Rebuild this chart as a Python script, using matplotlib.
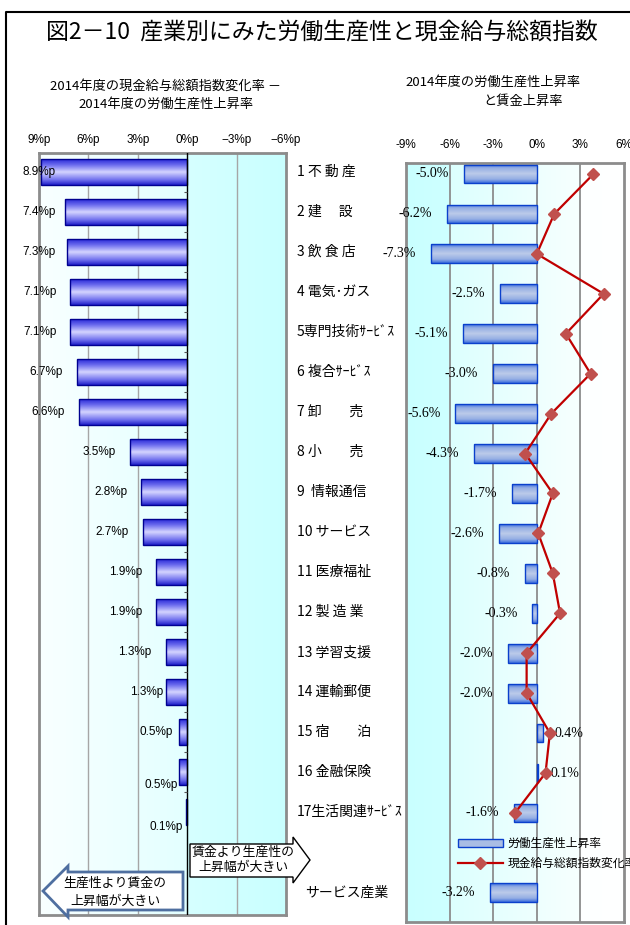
import numpy as np
import matplotlib
matplotlib.use("Agg")
import matplotlib.pyplot as plt
from matplotlib.patches import Polygon, Patch
from matplotlib.lines import Line2D
from matplotlib.colors import to_rgb

plt.rcParams['font.family'] = ['Noto Sans CJK JP', 'DejaVu Sans']

# 産業別データ（2014年度）
industries = ["1 不 動 産", "2 建　 設", "3 飲 食 店", "4 電気･ガス", "5専門技術ｻｰﾋﾞｽ",
              "6 複合ｻｰﾋﾞｽ", "7 卸　　売", "8 小　　売", "9  情報通信", "10 サービス",
              "11 医療福祉", "12 製 造 業", "13 学習支援", "14 運輸郵便", "15 宿　　泊",
              "16 金融保険", "17生活関連ｻｰﾋﾞｽ"]
gap_pt = [8.9, 7.4, 7.3, 7.1, 7.1, 6.7, 6.6, 3.5, 2.8, 2.7, 1.9, 1.9, 1.3, 1.3, 0.5, 0.5, 0.1]
productivity = [-5.0, -6.2, -7.3, -2.5, -5.1, -3.0, -5.6, -4.3, -1.7, -2.6, -0.8, -0.3,
                -2.0, -2.0, 0.4, 0.1, -1.6]
wage = [3.9, 1.2, 0.0, 4.6, 2.0, 3.7, 1.0, -0.8, 1.1, 0.1, 1.1, 1.6, -0.7, -0.7, 0.9, 0.6, -1.5]
total_name = "サービス産業"
total_productivity = -3.2

left_ticks = [9, 6, 3, 0, -3, -6]
left_ticklabels = ["9%p", "6%p", "3%p", "0%p", "−3%p", "−6%p"]
right_ticks = [-9, -6, -3, 0, 3, 6]
right_ticklabels = ["-9%", "-6%", "-3%", "0%", "3%", "6%"]

W, H = 630, 925


def px_box(x0, y0, x1, y1):
    return [x0 / W, 1 - y1 / H, (x1 - x0) / W, (y1 - y0) / H]


def ramp(stops, n=256):
    pos = np.linspace(0, 1, n)
    ps = [s[0] for s in stops]
    cols = np.array([to_rgb(s[1]) for s in stops])
    return np.stack([np.interp(pos, ps, cols[:, k]) for k in range(3)], axis=-1)


def gradient_bars(ax, bars, stops):
    img = ramp(stops)[:, None, :]
    for b in bars:
        x0, y0 = b.get_xy()
        w, h = b.get_width(), b.get_height()
        im = ax.imshow(img, extent=(x0, x0 + w, y0 + h, y0), aspect='auto',
                       interpolation='bilinear', zorder=2.5)
        im.set_clip_path(b)
        b.set_facecolor('none')


fig = plt.figure(figsize=(W / 100, H / 100), dpi=100)

# ---- left panel: wage change minus productivity change ----
axl = fig.add_axes(px_box(39, 153, 286, 915))
rows = np.arange(len(industries))
l_xlim, l_ylim = (9, -6), (18.575, -0.475)
axl.imshow(ramp([(0, '#f9ffff'), (0.6, '#e3ffff'), (0.6, '#d6ffff'), (1, '#c9ffff')])[None, :, :],
           extent=(9, -6, l_ylim[0], l_ylim[1]), aspect='auto', zorder=0)
for g in [6, 3, -3]:
    axl.axvline(g, color='#a6a6a6', lw=1, zorder=1)
bars = axl.barh(rows, gap_pt, height=0.63, edgecolor='#000090', lw=1, zorder=3)
gradient_bars(axl, bars, [(0, '#2a2ad6'), (0.22, '#6a6aee'), (0.5, '#d4d4ff'),
                          (0.8, '#7070ee'), (1, '#1e1ec8')])
axl.axvline(0, color='black', lw=1, zorder=4)
axl.hlines(rows[:-1] + 0.5, 0, 0.2, color='#555555', lw=0.8, zorder=4)

label_nudge = {13: (12, 0), 14: (8, 0), 15: (13, -13), 16: (11, -15)}
for i, v in enumerate(gap_pt):
    lx = min(v + 0.85, 8.0)
    dx, dy = label_nudge.get(i, (0, 0))
    axl.annotate(f"{v:.1f}%p", (lx, i), xytext=(dx, dy), textcoords='offset pixels',
                 ha='right', va='center', fontsize=8.5, family='Liberation Sans', zorder=5)

axl.set_xlim(*l_xlim)
axl.set_ylim(*l_ylim)
axl.xaxis.tick_top()
axl.set_xticks(left_ticks)
axl.set_xticklabels(left_ticklabels, family='Liberation Sans', fontsize=8.5)
axl.tick_params(axis='x', length=0, pad=5)
axl.set_yticks([])
for s in axl.spines.values():
    s.set_color('#8c8c8c')
    s.set_linewidth(2)

# industry names between the panels
for i, name in enumerate(industries):
    axl.text(1.0445, i, name, transform=axl.get_yaxis_transform(),
             ha='left', va='center', fontsize=10)

# ---- right panel: productivity and wage growth ----
axr = fig.add_axes(px_box(406, 163, 624, 922))
r_xlim, r_ylim = (-9, 6), (18.73, -0.275)
axr.imshow(ramp([(0, '#c9ffff'), (0.2, '#ceffff'), (0.2, '#dcffff'), (0.6, '#eefffe'),
                 (0.8, '#f7ffff'), (0.8, '#fdffff'), (1, '#ffffff')])[None, :, :],
           extent=(-9, 6, r_ylim[0], r_ylim[1]), aspect='auto', zorder=0)
for g in [-6, -3, 0, 3]:
    axr.axvline(g, color='#8c8c8c', lw=1.3, zorder=1)

prod_rows = list(rows) + [18]
prod_vals = productivity + [total_productivity]
rbars = axr.barh(prod_rows, prod_vals, height=0.47, edgecolor='#0a40cc', lw=1, zorder=3)
bar_stops = [(0, '#3a6cdc'), (0.2, '#94aee4'), (0.5, '#bccbea'), (0.8, '#94aee4'), (1, '#3a6cdc')]
gradient_bars(axr, rbars, bar_stops)

for y, v in zip(prod_rows, prod_vals):
    if v < 0:
        axr.annotate(f"{v:.1f}%", (v, y), xytext=(-15, 0), textcoords='offset pixels',
                     ha='right', va='center', fontsize=10, family='Liberation Serif', zorder=5)
    else:
        axr.annotate(f"{v:.1f}%", (v, y), xytext=(12, 0), textcoords='offset pixels',
                     ha='left', va='center', fontsize=10, family='Liberation Serif', zorder=5)

line_color, marker_color = '#c00000', '#c0504d'
axr.plot(wage, rows, color=line_color, lw=1.6, marker='D', markersize=6,
         markerfacecolor=marker_color, markeredgecolor=marker_color, zorder=6)

axr.text(-0.463, 18, total_name, transform=axr.get_yaxis_transform(),
         ha='left', va='center', fontsize=10)

handles = [Patch(facecolor='#a9bde4', edgecolor='#0a40cc', lw=1),
           Line2D([], [], color=line_color, lw=1.6, marker='D', markersize=6,
                  markerfacecolor=marker_color, markeredgecolor=marker_color)]
axr.legend(handles, ["労働生産性上昇率", "現金給与総額指数変化率"], loc='upper left',
           bbox_to_anchor=(0.2385, 0.112), frameon=False, fontsize=8.5, handlelength=3.8,
           handleheight=0.6, handletextpad=0.4, borderpad=0, borderaxespad=0,
           labelspacing=0.55)

axr.set_xlim(*r_xlim)
axr.set_ylim(*r_ylim)
axr.xaxis.tick_top()
axr.set_xticks(right_ticks)
axr.set_xticklabels(right_ticklabels, family='Liberation Sans', fontsize=8.5)
axr.tick_params(axis='x', length=0, pad=9)
axr.set_yticks([])
for s in axr.spines.values():
    s.set_color('#8c8c8c')
    s.set_linewidth(2)

# ---- overlay: title, headings, arrows, frame ----
ov = fig.add_axes([0, 0, 1, 1], zorder=5)
ov.set_xlim(0, W)
ov.set_ylim(H, 0)
ov.axis('off')
ov.patch.set_alpha(0)

ov.plot([6, 6, W + 5], [H + 5, 12, 12], color='black', lw=1.5, clip_on=False)
ov.text(322, 33, "図2－10  産業別にみた労働生産性と現金給与総額指数",
        ha='center', va='center', fontsize=16.5)
ov.text(166, 86, "2014年度の現金給与総額指数変化率 －", ha='center', va='center', fontsize=9.5)
ov.text(166, 104, "2014年度の労働生産性上昇率", ha='center', va='center', fontsize=9.5)
ov.text(493, 82, "2014年度の労働生産性上昇率", ha='center', va='center', fontsize=9.5)
ov.text(523, 101, "と賃金上昇率", ha='center', va='center', fontsize=9.5)

left_arrow = [(43, 891), (68, 866), (68, 872), (183, 872), (183, 910), (68, 910), (68, 917)]
ov.add_patch(Polygon(left_arrow, closed=True, facecolor='white', edgecolor='#4f6fa0', lw=2))
ov.text(115, 883, "生産性より賃金の", ha='center', va='center', fontsize=9.3)
ov.text(115, 901, "上昇幅が大きい", ha='center', va='center', fontsize=9.3)

right_arrow = [(190, 844), (293, 844), (293, 837), (310, 860), (293, 883), (293, 877), (190, 877)]
ov.add_patch(Polygon(right_arrow, closed=True, facecolor='white', edgecolor='black', lw=1))
ov.text(243, 852, "賃金より生産性の", ha='center', va='center', fontsize=9.3)
ov.text(243, 867, "上昇幅が大きい", ha='center', va='center', fontsize=9.3)

fig.savefig("out.png", dpi=100)
